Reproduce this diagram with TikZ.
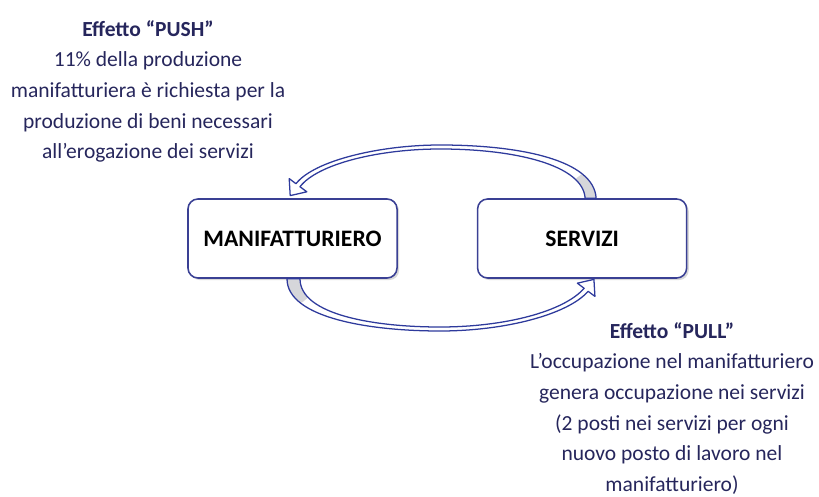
\documentclass[tikz,border=0pt]{standalone}
\usepackage{fontspec}
\setmainfont{Carlito}
\usetikzlibrary{positioning, calc, shadows}

\definecolor{boxline}{RGB}{58,64,148}
\definecolor{arrowline}{RGB}{46,58,156}
\definecolor{labeltext}{RGB}{38,38,92}
\definecolor{tailgray}{RGB}{214,214,218}

\begin{document}
\begin{tikzpicture}[
    x=0.025cm, y=-0.025cm,
    sector/.style={
        rectangle,
        draw=boxline,
        line width=1.1pt,
        fill=white,
        rounded corners=0.25cm,
        minimum width=5.225cm,
        minimum height=1.975cm,
        font=\fontsize{16.8}{20}\selectfont\bfseries,
        drop shadow={shadow xshift=1.5pt, shadow yshift=-1.5pt, opacity=.3}
    },
    ribbon/.style={draw=arrowline, line width=0.9pt, line join=round},
    note/.style={
        text=labeltext,
        align=center,
        inner sep=0pt,
        font=\fontsize{15.3}{21.8}\selectfont
    }
]
\useasboundingbox (0,0) rectangle (819,497);

% the two sectors
\node[sector] (man) at (292.5,238.5) {MANIFATTURIERO};
\node[sector, right=1.975cm of man] (serv) {SERVIZI};

% push: from servizi back to manifatturiero
\path[save path=\pushpath]
    ($(serv.north)+(14,0)$) .. controls (594,160) and (520,145) .. (440,145)
    .. controls (380,145) and (314,160.5) .. ($(man.north)+(3.5,-14.5)$)
    -- ($(man.north)+(-3.3,-19.6)$) -- ($(man.north)+(-2.3,-2.6)$)
    -- ($(man.north)+(14.3,-6.4)$) -- ($(man.north)+(7.5,-11.5)$)
    .. controls (318,163.5) and (380,149) .. (440,149)
    .. controls (515,149) and (583,165) .. ($(serv.north)+(3,0)$) -- cycle;
\fill[white, use path=\pushpath];
\begin{scope}
    \clip ($(serv.north)+(14,0)$) circle (28);
    \fill[tailgray, use path=\pushpath];
\end{scope}
\draw[ribbon, use path=\pushpath];

% pull: from manifatturiero to servizi
\path[save path=\pullpath]
    ($(man.south)+(-5.5,0)$) .. controls (287,318) and (370,331) .. (440,331)
    .. controls (505,331) and (568,314.5) .. ($(serv.south)+(6,12.5)$)
    -- ($(serv.south)+(12.8,17.6)$) -- ($(serv.south)+(11.8,0.6)$)
    -- ($(serv.south)+(-4.8,4.4)$) -- ($(serv.south)+(2,9.5)$)
    .. controls (564,311.5) and (505,327) .. (440,327)
    .. controls (375,327) and (300,315) .. ($(man.south)+(7.5,0)$) -- cycle;
\fill[white, use path=\pullpath];
\begin{scope}
    \clip ($(man.south)+(-5.5,0)$) circle (28);
    \fill[tailgray, use path=\pullpath];
\end{scope}
\draw[ribbon, use path=\pullpath];

% labels
\node[note, anchor=north] (push) at (148,20) {\textbf{Effetto “PUSH”}\\11\% della produzione\\manifatturiera è richiesta per la\\produzione di beni necessari\\all’erogazione dei servizi};
\node[note, anchor=north] (pull) at (672,322) {\textbf{Effetto “PULL”}\\L’occupazione nel manifatturiero\\genera occupazione nei servizi\\(2 posti nei servizi per ogni\\nuovo posto di lavoro nel\\manifatturiero)};

\end{tikzpicture}
\end{document}
